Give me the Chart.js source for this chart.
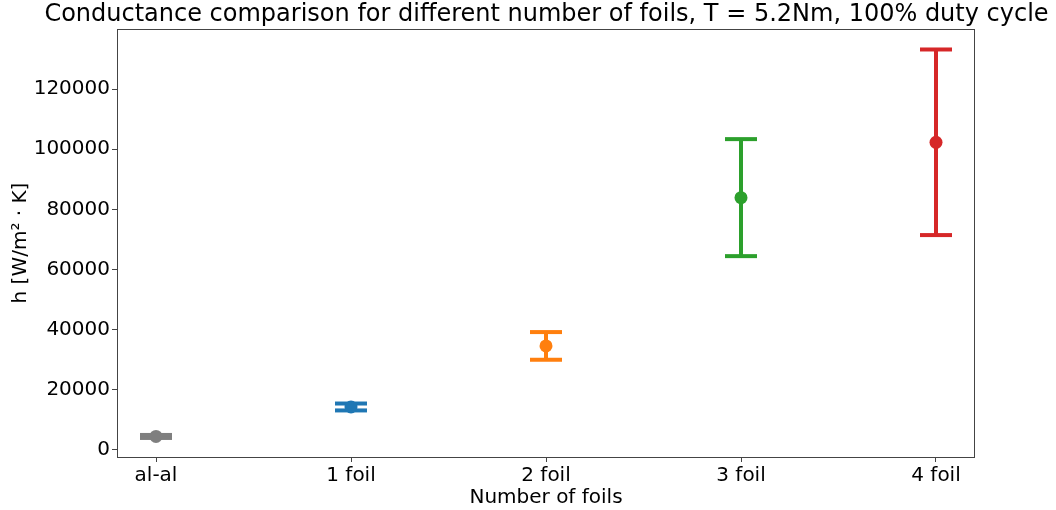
<!DOCTYPE html>
<html>
<head>
<meta charset="utf-8">
<script src="https://cdn.jsdelivr.net/npm/chart.js@4.4.1/dist/chart.umd.min.js"></script>
<style>
  html, body { margin: 0; padding: 0; background: #fff; }
  #wrap { width: 1056px; height: 510px; }
</style>
</head>
<body>
<div id="wrap"><canvas id="chart" width="1056" height="510"></canvas></div>
<script>
// --- data ---
const categories = ['al-al', '1 foil', '2 foil', '3 foil', '4 foil'];
const means = [4500, 14300, 34600, 83900, 102300];
const errors = [500, 1150, 4600, 19450, 30850];
const colors = ['#7f7f7f', '#1f77b4', '#ff7f0e', '#2ca02c', '#d62728'];
const yTicks = [0, 20000, 40000, 60000, 80000, 100000, 120000];

const FONT = 'DejaVu Sans';

// one dataset per error bar (line between caps, caps drawn as 'line' points)
const errorSets = categories.map((c, i) => ({
    label: c + ' err',
    data: [{ x: i, y: means[i] - errors[i] }, { x: i, y: means[i] + errors[i] }],
    showLine: true,
    borderColor: colors[i],
    borderWidth: 4,
    pointStyle: 'line',
    pointRadius: 16,
    pointBorderWidth: 4,
    pointBorderColor: colors[i],
    order: 1
}));

const markerSet = {
    label: 'mean',
    data: means.map((m, i) => ({ x: i, y: m })),
    backgroundColor: colors,
    borderColor: colors,
    pointRadius: 6.5,
    pointBorderWidth: 0,
    order: 0
};

// frame round the plot + title centred over plot area
const framePlugin = {
    id: 'frame',
    afterDraw(chart) {
        const a = chart.chartArea;
        const ctx = chart.ctx;
        ctx.save();
        ctx.strokeStyle = '#444';
        ctx.lineWidth = 1;
        ctx.strokeRect(a.left + 0.5, a.top + 0.5, a.right - a.left - 1, a.bottom - a.top);
        ctx.fillStyle = '#000';
        ctx.font = '24px "' + FONT + '"';
        ctx.textAlign = 'center';
        ctx.textBaseline = 'middle';
        ctx.fillText('Conductance comparison for different number of foils, T = 5.2Nm, 100% duty cycle',
            (a.left + a.right) / 2 + 0.5, 15);
        ctx.restore();
    }
};

function initChart() {
    const ctx = document.getElementById('chart').getContext('2d');
    new Chart(ctx, {
        type: 'scatter',
        data: { datasets: [...errorSets, markerSet] },
        plugins: [framePlugin],
        options: {
            responsive: false,
            animation: false,
            layout: { padding: { top: 29, right: 81, left: 0, bottom: 0 } },
            plugins: {
                legend: { display: false },
                tooltip: { enabled: false },
                title: { display: false }
            },
            scales: {
                x: {
                    type: 'linear',
                    min: -0.2,
                    max: 4.2,
                    afterBuildTicks: (s) => { s.ticks = categories.map((c, i) => ({ value: i })); },
                    afterFit: (s) => { s.height = 53; },
                    ticks: {
                        color: '#000',
                        font: { family: FONT, size: 20 },
                        padding: 2,
                        maxRotation: 0,
                        callback: (v) => categories[v]
                    },
                    grid: { drawOnChartArea: false, drawTicks: true, tickLength: 5, color: '#444' },
                    border: { display: false },
                    title: {
                        display: true,
                        text: 'Number of foils',
                        color: '#000',
                        font: { family: FONT, size: 20 },
                        padding: { top: 0, bottom: 0 }
                    }
                },
                y: {
                    min: -2330,
                    max: 139960,
                    afterBuildTicks: (s) => { s.ticks = yTicks.map(v => ({ value: v })); },
                    afterFit: (s) => { s.width = 117; },
                    ticks: {
                        color: '#000',
                        font: { family: FONT, size: 20 },
                        padding: 2,
                        callback: (v) => String(v)
                    },
                    grid: { drawOnChartArea: false, drawTicks: true, tickLength: 5, color: '#444' },
                    border: { display: false },
                    title: {
                        display: true,
                        text: 'h [W/m² · K]',
                        color: '#000',
                        font: { family: FONT, size: 20 },
                        padding: { top: 9, bottom: 0 }
                    }
                }
            }
        }
    });
}

document.addEventListener('DOMContentLoaded', initChart);
</script>
</body>
</html>
